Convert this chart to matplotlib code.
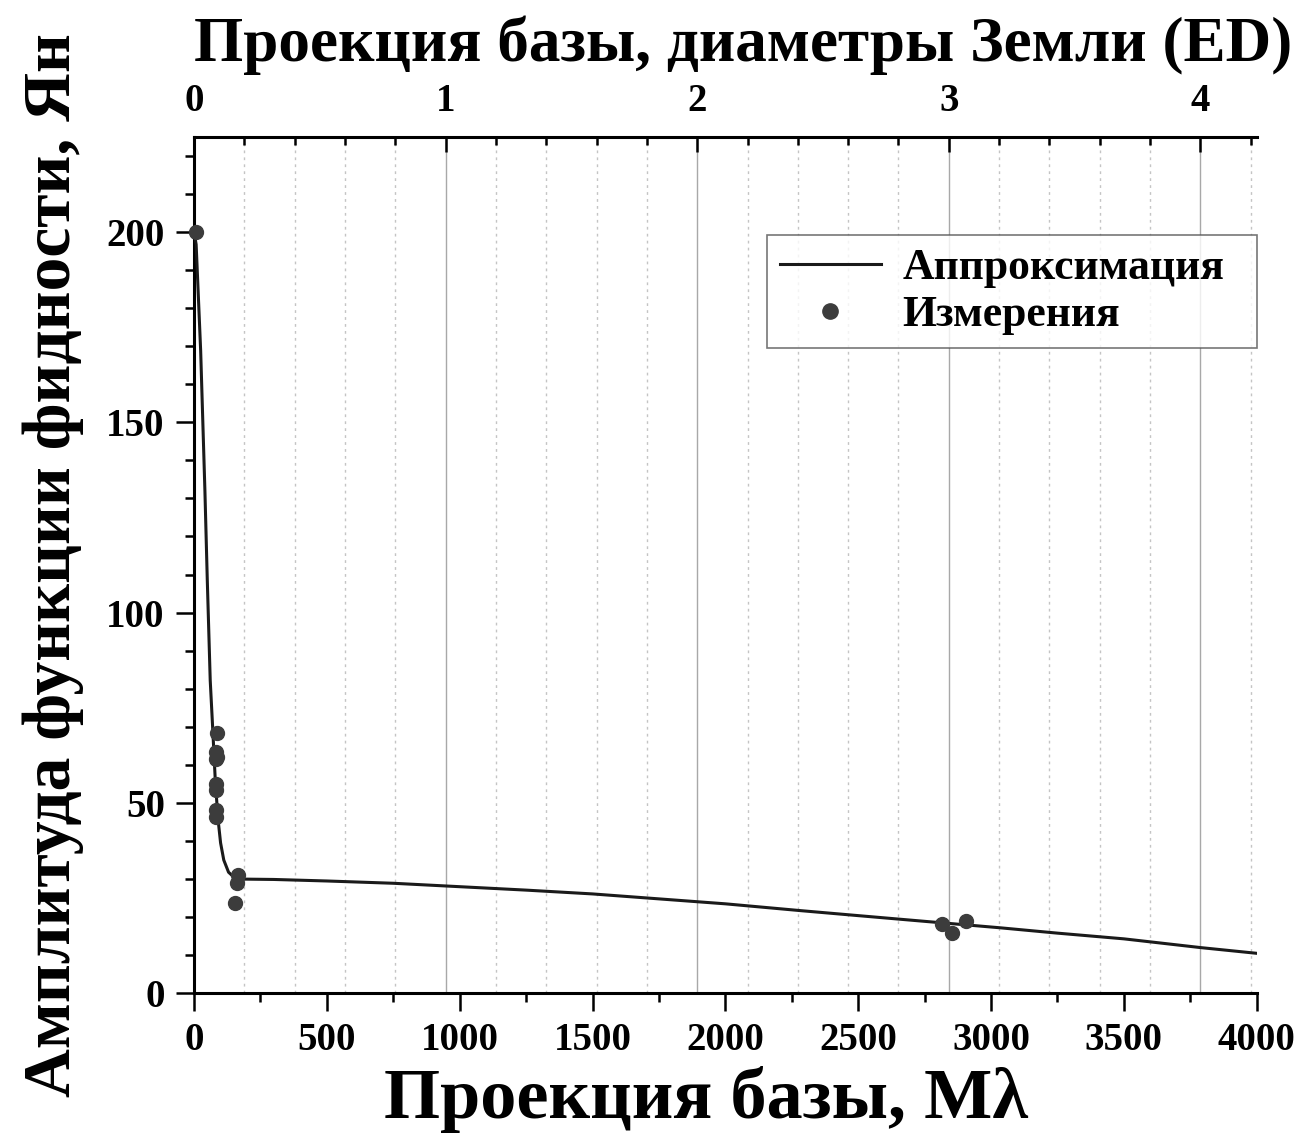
import matplotlib
matplotlib.use('Agg')
import matplotlib.pyplot as plt
from matplotlib.ticker import MultipleLocator

# Mλ per one Earth diameter (top axis scale)
ED = 947

# fitted curve
fit_x = [0, 8, 25, 41, 50, 61, 70, 80, 90, 100, 112, 130, 155, 175, 300, 500, 750,
         1000, 1250, 1500, 1750, 2000, 2285, 2500, 2750, 3035, 3250, 3500, 3789, 4000]
fit_y = [200, 196.7, 168.8, 132, 108.4, 82.2, 70, 56, 46, 39.5, 35, 31.8, 30.2, 30.0, 29.9, 29.5, 28.9,
         28.0, 27.1, 26.1, 24.8, 23.5, 21.7, 20.4, 18.9, 17.2, 15.8, 14.3, 12.0, 10.5]

# measurements
meas_x = [8, 86, 84, 86, 83, 82, 83, 81, 82, 165, 160, 155, 2815, 2853, 2905]
meas_y = [200, 68.3, 63.4, 62.0, 61.6, 55.1, 53.3, 48.1, 46.3, 31.0, 28.9, 23.6, 18.2, 15.9, 19.0]

plt.rcParams['font.family'] = ['Liberation Serif', 'DejaVu Serif']
plt.rcParams['font.weight'] = 'bold'
plt.rcParams['axes.labelweight'] = 'bold'

fig = plt.figure(figsize=(13.03, 11.45), dpi=100)
ax = fig.add_axes([0.1489, 0.1325, 0.8156, 0.7481])
ax2 = ax.twiny()
ax.set_zorder(ax2.get_zorder() + 1)
ax.patch.set_visible(False)

ax.plot(fit_x, fit_y, color='#1a1a1a', lw=2.2, label='Аппроксимация', zorder=3)
ax.plot(meas_x, meas_y, ls='none', marker='o', ms=10, color='#3c3c3c',
        label='Измерения', zorder=4, clip_on=False)

ax.set_xlim(0, 4000)
ax.set_ylim(0, 225)
ax.xaxis.set_major_locator(MultipleLocator(500))
ax.xaxis.set_minor_locator(MultipleLocator(250))
ax.yaxis.set_major_locator(MultipleLocator(50))
ax.yaxis.set_minor_locator(MultipleLocator(10))
ax.tick_params(which='major', direction='out', length=13, width=1.8, labelsize=28, pad=8)
ax.tick_params(which='minor', direction='out', length=6.5, width=1.8)
ax.tick_params(top=False, right=False)
for s in ['top', 'right']:
    ax.spines[s].set_visible(False)
for s in ['left', 'bottom']:
    ax.spines[s].set_linewidth(2.2)

# top axis in Earth diameters
ax2.set_xlim(0, 4000 / ED)
ax2.xaxis.set_major_locator(MultipleLocator(1))
ax2.xaxis.set_minor_locator(MultipleLocator(0.2))
ax2.tick_params(which='major', direction='in', length=11, width=1.8, labelsize=28, pad=12)
ax2.tick_params(which='minor', direction='in', length=6, width=1.8)
ax2.grid(which='major', axis='x', color='#a8a8a8', lw=1.0, ls='-')
ax2.grid(which='minor', axis='x', color='#c4c4c4', lw=1.0, ls=(0, (2, 3)))
for s in ['left', 'right', 'bottom']:
    ax2.spines[s].set_visible(False)
ax2.spines['top'].set_linewidth(2.2)

ax.set_xlabel('Проекция базы, Mλ', fontsize=52, fontweight='bold', labelpad=10)
ax.xaxis.set_label_coords(0.482, -0.085)
ax.set_ylabel('Амплитуда функции фидности, Ян', fontsize=48.7, fontweight='bold', labelpad=16)
ax2.set_xlabel('Проекция базы, диаметры Земли (ED)', fontsize=45.5, fontweight='bold', labelpad=12)
ax2.xaxis.set_label_coords(0.517, 1.088)

leg = ax.legend(loc='upper left', bbox_to_anchor=(0.539, 0.75, 0.461, 0.135), mode='expand',
                fontsize=31.5, handlelength=2.3, fancybox=False, edgecolor='#555555',
                borderpad=0.3, labelspacing=0.15, handletextpad=0.5, borderaxespad=0,
                markerscale=1.1)
leg.get_frame().set_linewidth(1.2)

fig.savefig('out.png', dpi=100)
